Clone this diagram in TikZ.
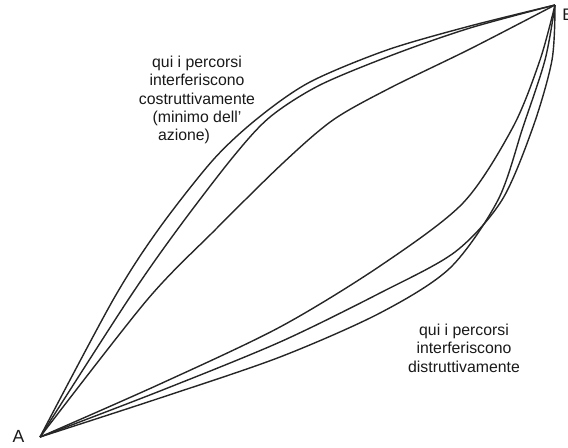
\documentclass[tikz,border=0pt]{standalone}
\usepackage{fontspec}
\setmainfont{Liberation Sans}
\begin{document}
\begin{tikzpicture}[x=0.02cm,y=-0.02cm,
  route/.style={line width=0.8pt, draw=black!85, line join=round},
  note/.style={inner sep=0pt, font=\fontsize{9}{10.5}\selectfont, align=center, text=black!90},
  ptlbl/.style={inner sep=0pt, text=black!90}]
\useasboundingbox (0,0) rectangle (568,447);
\coordinate (A) at (40,437);
\coordinate (B) at (555,5);
\node[ptlbl, font=\fontsize{10}{12}\selectfont] (la) at (18.5,436) {A};
\node[ptlbl, font=\fontsize{9.5}{12}\selectfont, anchor=west] (lb) at (562,15) {B};
% upper paths
\draw[route] plot[smooth] coordinates {(A) (113,300) (158,230) (213,160) (258,118) (310,82) (387,50) (470,26) (B)};
\draw[route] plot[smooth] coordinates {(A) (128,300) (177,230) (233,157) (270,117) (320,85) (395,54) (470,28) (B)};
\draw[route] plot[smooth] coordinates {(A) (147,300) (215,230) (283,163) (333,120) (390,88) (470,49) (B)};
% lower paths
\draw[route] plot[smooth] coordinates {(A) (160,384) (280,327) (380,266) (463,203) (513,127) (540,60) (B)};
\draw[route] plot[smooth] coordinates {(A) (160,391) (280,342) (380,293) (455,252) (502,200) (533,127) (552,60) (B)};
\draw[route] plot[smooth] coordinates {(A) (160,398) (280,357) (380,313) (450,268) (498,200) (523,127) (545,60) (B)};
% labels
\node[note] (top) at (197,100) {qui i percorsi\\interferiscono\\costruttivamente\\(minimo dell'\hspace*{12.5pt}\\azione)\hspace*{14.7pt}};
\node[note] (bot) at (464,348) {qui i percorsi\\interferiscono\\distruttivamente};
\end{tikzpicture}
\end{document}
